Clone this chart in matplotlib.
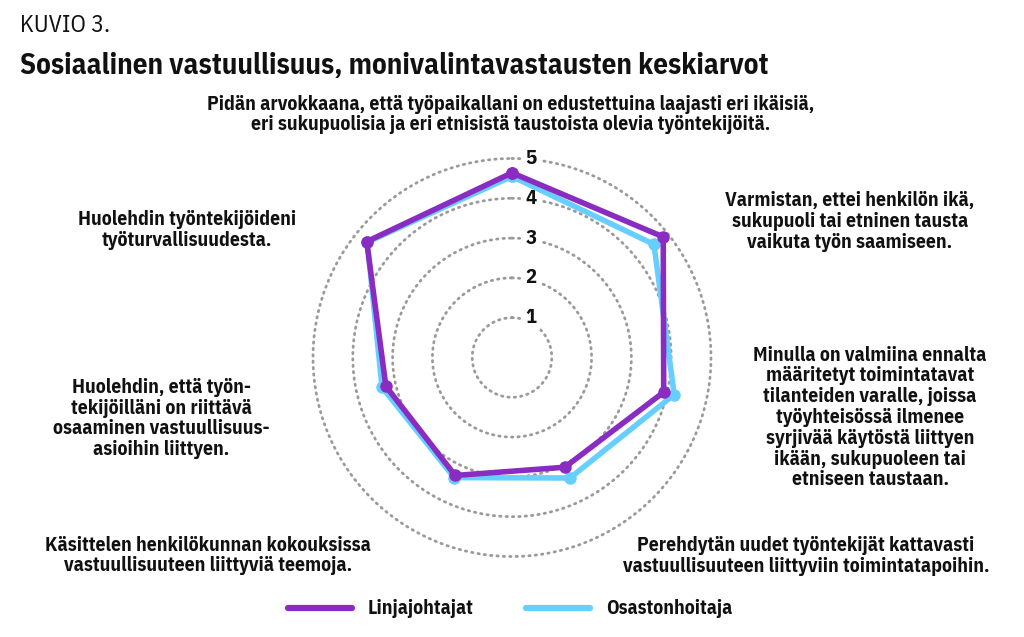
import numpy as np
import matplotlib
matplotlib.use("Agg")
import matplotlib.pyplot as plt
from matplotlib.lines import Line2D

FAM = ["IBM Plex Sans Condensed", "DejaVu Sans"]

categories = [
    "Pidän arvokkaana, että työpaikallani on edustettuina laajasti eri ikäisiä,\neri sukupuolisia ja eri etnisistä taustoista olevia työntekijöitä.",
    "Varmistan, ettei henkilön ikä,\nsukupuoli tai etninen tausta\nvaikuta työn saamiseen.",
    "Minulla on valmiina ennalta\nmääritetyt toimintatavat\ntilanteiden varalle, joissa\ntyöyhteisössä ilmenee\nsyrjivää käytöstä liittyen\nikään, sukupuoleen tai\netniseen taustaan.",
    "Perehdytän uudet työntekijät kattavasti\nvastuullisuuteen liittyviin toimintatapoihin.",
    "Käsittelen henkilökunnan kokouksissa\nvastuullisuuteen liittyviä teemoja.",
    "Huolehdin, että työn-\ntekijöilläni on riittävä\nosaaminen vastuullisuus-\nasioihin liittyen.",
    "Huolehdin työntekijöideni\ntyöturvallisuudesta.",
]
series_names = ["Linjajohtajat", "Osastonhoitaja"]
linjajohtajat = [4.64, 4.86, 3.91, 3.06, 3.29, 3.25, 4.67]
osastonhoitaja = [4.55, 4.56, 4.18, 3.36, 3.35, 3.35, 4.65]
ring_ticks = [1, 2, 3, 4, 5]
figure_no = "KUVIO 3."
title = "Sosiaalinen vastuullisuus, monivalintavastausten keskiarvot"

PURPLE = "#8a2bc2"
CYAN = "#66cfff"
INK = "#111111"

W, H = 1024, 637
fig = plt.figure(figsize=(W / 100, H / 100), dpi=100)
renderer = fig.canvas.get_renderer()


def fit_size(s, target_px, weight):
    t = fig.text(0, 0, s, fontsize=10, family=FAM, fontweight=weight)
    w = t.get_window_extent(renderer).width
    t.remove()
    return 10 * target_px / w


title_fs = fit_size(title, 745, "bold")
kuvio_fs = fit_size(figure_no, 90, "normal")
label_fs = np.mean([
    fit_size("Käsittelen henkilökunnan kokouksissa", 323, "bold"),
    fit_size("vastuullisuuteen liittyviin toimintatapoihin.", 368, "bold"),
    fit_size("Varmistan, ettei henkilön ikä,", 247, "bold"),
    fit_size("Minulla on valmiina ennalta", 230, "bold"),
])
legend_fs = np.mean([fit_size(series_names[0], 105, "bold"),
                     fit_size(series_names[1], 125, "bold")])

cx, cy, R = 512, 357.5, 199
ax = fig.add_axes([(cx - R) / W, (H - cy - R) / H, 2 * R / W, 2 * R / H], projection="polar")
ax.set_theta_zero_location("N")
ax.set_theta_direction(-1)
ax.set_ylim(0, 5)
ax.spines["polar"].set_visible(False)
ax.set_xticks([])
ax.set_yticks(ring_ticks)
ax.set_yticklabels([])
ax.grid(False)
ax.patch.set_alpha(0)

n = len(categories)
theta = np.arange(n) * 2 * np.pi / n
tt = np.linspace(0, 2 * np.pi, 600)
for v in ring_ticks:
    ax.plot(tt, np.full_like(tt, v), color="#9a9a9a", lw=2.0, ls=(0, (0.5, 1.8)),
            dash_capstyle="round", zorder=1, clip_on=False)
    ax.annotate(str(v), xy=(0, v), xytext=(19, 0), textcoords="offset pixels",
                ha="center", va="center", fontsize=label_fs * 1.05, fontweight="bold",
                family=FAM, color=INK, zorder=2, annotation_clip=False,
                bbox=dict(boxstyle="square,pad=0.15", fc="white", ec="none"))


def closed(a):
    return np.append(a, a[0])


tc = closed(theta)
ax.plot(tc, closed(osastonhoitaja), color=CYAN, lw=4, solid_joinstyle="round",
        marker="o", ms=8, zorder=3, clip_on=False)
ax.plot(tc, closed(linjajohtajat), color=PURPLE, lw=4, solid_joinstyle="round",
        marker="o", ms=8, zorder=4, clip_on=False)

# category label block centres (pixels)
label_pos = [(511, 114.5), (850, 221.5), (870, 417.5), (806, 556), (208, 555.5),
             (161, 418.5), (187, 230)]
for txt, (px, py) in zip(categories, label_pos):
    fig.text(px / W, 1 - py / H, txt, ha="center", va="center", fontsize=label_fs,
             fontweight="bold", family=FAM, color=INK, linespacing=1.12)

fig.text(20 / W, 1 - 26 / H, figure_no, ha="left", va="center", fontsize=kuvio_fs,
         family=FAM, color=INK)
fig.text(20 / W, 1 - 66 / H, title, ha="left", va="center", fontsize=title_fs,
         fontweight="bold", family=FAM, color=INK)

fpx = legend_fs * 100 / 72
handles = [Line2D([], [], color=PURPLE, lw=4.5, solid_capstyle="round"),
           Line2D([], [], color=CYAN, lw=4.5, solid_capstyle="round")]
leg = fig.legend(handles, series_names, loc="center", bbox_to_anchor=(510 / W, 1 - 609 / H),
                 ncol=2, frameon=False, handlelength=64 / fpx, handletextpad=16 / fpx,
                 columnspacing=52 / fpx, borderpad=0, borderaxespad=0,
                 prop=dict(family=FAM, weight="bold", size=legend_fs))
for t in leg.get_texts():
    t.set_color(INK)

fig.savefig("out.png", dpi=100, facecolor="white")
